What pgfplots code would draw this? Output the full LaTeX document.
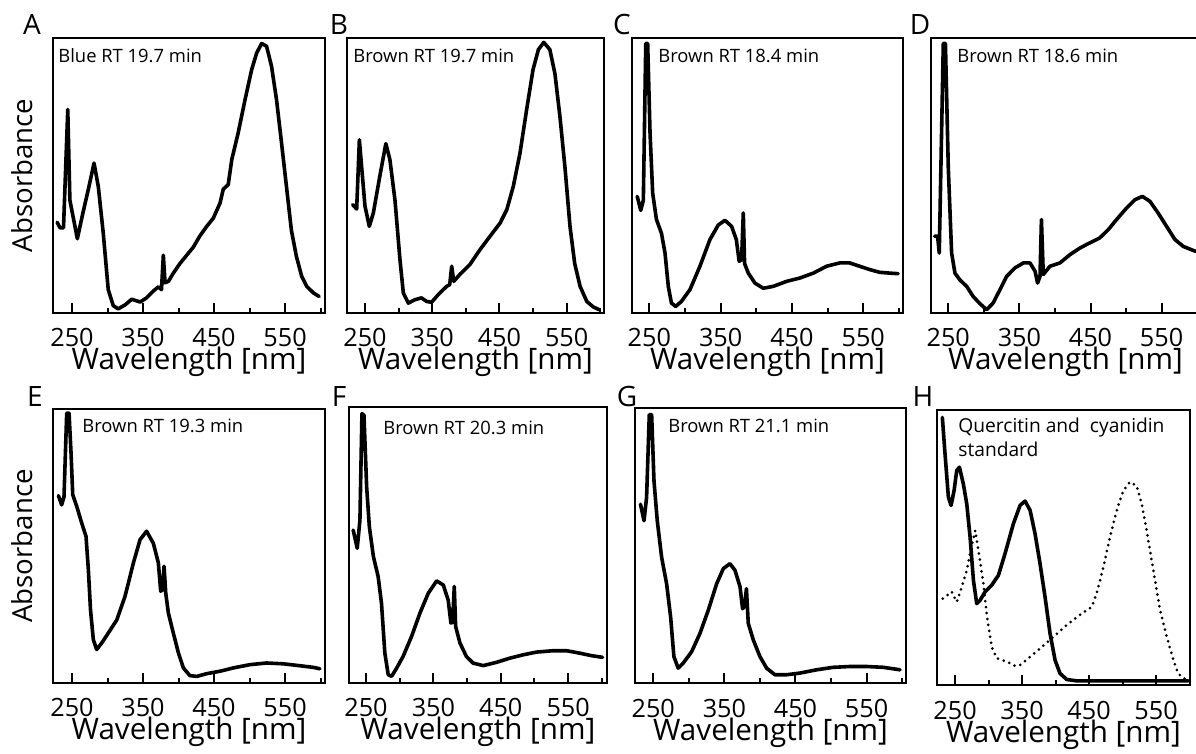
\documentclass[border=0pt]{standalone}
\usepackage{fontspec}
\setmainfont{Open Sans}
\usepackage{pgfplots}
\pgfplotsset{compat=1.18}

\pgfplotsset{
  panel/.style={
    scale only axis, anchor=north west, clip mode=individual,
    ymin=0, ymax=100, ytick=\empty,
    xtick={250,350,450,550}, minor xtick={300,400,500,600},
    xtick pos=left, tick align=inside,
    major tick length=5pt, minor tick length=2.5pt,
    every tick/.style={black, line width=1pt},
    axis line style={line width=1.25pt},
    /pgf/number format/assume math mode=true,
    /pgf/number format/1000 sep={},
    xticklabel style={font=\fontsize{12.6}{14}\selectfont, anchor=base, inner sep=0pt, yshift=-17pt},
    xlabel={Wavelength [nm]},
    xlabel style={font=\fontsize{14.8}{16}\selectfont, at={(axis description cs:0.5,0)}, anchor=base, inner sep=0pt, yshift=-28.5pt},
  },
  absorb/.style={
    ylabel={Absorbance},
    ylabel style={font=\fontsize{13.8}{16}\selectfont, at={(axis description cs:-0.114,0.5)}, anchor=center, inner sep=0pt},
  },
}
\tikzset{
  curve/.style={black, line width=1.8pt, line join=round, line cap=round, mark=none},
  dots/.style={black, line width=1.5pt, dash pattern=on 0pt off 3pt, line cap=round, mark=none},
  letter/.style={font=\fontsize{14}{16}\selectfont, anchor=base, inner sep=0pt},
  ttl/.style={font=\fontsize{9.2}{11}\selectfont, anchor=base west, inner sep=0pt},
}

\begin{document}
\begin{tikzpicture}
\useasboundingbox (0,0) rectangle (598pt,-377pt);

% A
\begin{axis}[panel, absorb, at={(26.5pt,-19pt)}, width=136pt, height=137.5pt, xmin=223.2, xmax=606.3]
\addplot[curve] coordinates {(229,33) (233,31) (238,31) (244,74) (247,41) (257.5,27) (265,36) (273,45) (281,54.5) (287,46) (294,29) (301,8.5) (308,2.7) (315,1.5) (325,3) (334,5) (346,4) (355,5.5) (364.5,8) (371.6,9.5) (376,8.5) (378.6,21) (381,11) (385.7,11.5) (392.7,14.5) (402,18) (411.5,21) (421,24) (430,28) (439.7,31.5) (449,34.5) (458.5,40) (463,45) (470,46.7) (475,55.8) (484,65.5) (493.7,77.6) (503,88.5) (510,94.5) (517,98) (524,97) (531,89.7) (538,77.6) (545,62) (552,46) (559,30) (566,20.6) (573.5,13.3) (580.5,9.7) (590,7.3) (598,6)};
\node[letter] at (rel axis cs:0,1) [xshift=-10.5pt, yshift=1.5pt] {A};
\node[ttl] at (rel axis cs:0,1) [xshift=2.5pt, yshift=-12.3pt] {Blue RT 19.7 min};
\end{axis}

% B
\begin{axis}[panel, at={(173.5pt,-19pt)}, width=128.5pt, height=137.5pt, xmin=223.2, xmax=605.6]
\addplot[curve] coordinates {(231.7,39.4) (237.6,37.8) (241.6,63) (245,53) (250,38.8) (256.4,31.5) (262.4,36.4) (272,49.7) (281,61.6) (287,55.8) (294.6,41) (302,19.4) (307,7.3) (314.5,3.6) (324,4.8) (334,5.5) (341.7,4.2) (349,3.9) (359,6.7) (371.5,9.7) (376,10.3) (379,17) (382,11.5) (391,14) (406,17.6) (421,23) (436,27.9) (451,32.7) (461,37.6) (470.6,46) (480.5,58) (490.5,74) (500,88.5) (508,95.8) (516,98.4) (525,95.8) (532.6,87) (540,71.5) (547.5,53) (555,31.5) (562,18) (570,9.7) (580,4.2) (589.6,2.2) (598.5,1.2)};
\node[letter] at (rel axis cs:0,1) [xshift=-4pt, yshift=1.5pt] {B};
\node[ttl] at (rel axis cs:0,1) [xshift=3pt, yshift=-12.3pt] {Brown RT 19.7 min};
\end{axis}

% C
\begin{axis}[panel, at={(316pt,-19pt)}, width=135.5pt, height=137.5pt, xmin=225.7, xmax=605.8]
\addplot[curve] coordinates {(233,42.4) (238,37.3) (241.6,41) (245,98) (247.7,98) (251,65.5) (254.7,43.6) (260,34) (267,29) (272,21.8) (276.6,9.7) (281,3.6) (287,2.4) (295,4.2) (307,8.5) (321,17) (335,26.7) (346.7,32) (356,33.7) (365.4,31.5) (372,26.7) (376,18.8) (379.4,19.4) (381.8,36.4) (383.6,18) (388.8,14.5) (398,10.9) (409.8,9) (424,9.7) (442.5,11.5) (461,12.7) (480,14.5) (498.6,17) (517,18.2) (531,18.2) (545,17) (559,15.8) (573,14.8) (587,14.5) (599,14.3)};
\node[letter] at (rel axis cs:0,1) [xshift=-5pt, yshift=1.5pt] {C};
\node[ttl] at (rel axis cs:0,1) [xshift=13pt, yshift=-12.3pt] {Brown RT 18.4 min};
\end{axis}

% D
\begin{axis}[panel, at={(465.5pt,-19pt)}, width=134.5pt, height=137.5pt, xmin=225.7, xmax=604]
\addplot[curve] coordinates {(231,27.9) (235,27.9) (237.3,21.8) (243,98) (246,98) (250,53) (254.7,21.8) (259.4,14.5) (266.4,12) (275.8,9.7) (285,6) (294.5,3.4) (304,1.2) (313,3.6) (322.7,8.5) (332,13.3) (343.8,16.4) (355.5,18.2) (364.9,18.2) (372,15.2) (375.6,10.9) (379,13.3) (381,34) (383.6,14) (393,17) (407,18.2) (421,21.2) (435,23.6) (449,25.5) (463,27.3) (475,30.3) (486.7,34) (500.8,38.2) (512.5,41.2) (523,42.4) (533.6,40.6) (545,36.4) (557,31.5) (568.8,26.7) (580.5,24.2) (592,23) (598,22.4)};
\node[letter] at (rel axis cs:0,1) [xshift=-5.5pt, yshift=1.5pt] {D};
\node[ttl] at (rel axis cs:0,1) [xshift=13pt, yshift=-12.3pt] {Brown RT 18.6 min};
\end{axis}

% E
\begin{axis}[panel, absorb, at={(26.5pt,-204.5pt)}, width=136pt, height=137pt, xmin=223.2, xmax=606.3]
\addplot[curve] coordinates {(230.8,68.4) (235.4,65) (238.7,68) (242.5,98.5) (245.8,98.5) (248.6,84) (251,68.7) (256.6,64.5) (263.6,58.4) (269.7,53.5) (273,41.4) (276,26.8) (280,15.8) (284.7,12.2) (291.8,14.6) (301,18.2) (313,23) (324.6,31.6) (336.4,43.8) (345.8,52.3) (355,55.4) (364.5,51) (371.6,43.8) (374.9,33.5) (377.5,34) (379.6,42.6) (382,32.8) (385.7,25.5) (392.7,18.2) (399.8,11) (406.8,5.5) (416,2.7) (425.6,2.4) (439.7,3.4) (458.5,4.3) (477,5.5) (500.7,6.7) (524,7.3) (547.6,7) (571,6.3) (590,5.7) (599,5.2)};
\node[letter] at (rel axis cs:0,1) [xshift=-9pt, yshift=1pt] {E};
\node[ttl] at (rel axis cs:0,1) [xshift=14.5pt, yshift=-12pt] {Brown RT 19.3 min};
\end{axis}

% F
\begin{axis}[panel, at={(174.5pt,-203.5pt)}, width=129pt, height=138pt, xmin=224.8, xmax=607.6]
\addplot[curve] coordinates {(231,55.4) (237,48.8) (241,59) (244,97.6) (247,97) (251,71) (255,56.6) (261,45.8) (268,38.6) (273,28.9) (278,10.8) (283,3) (288,2.4) (295.5,5.4) (305,9.6) (317.7,16.9) (330,25.3) (342.4,32.5) (354.8,37) (364.7,35.5) (372,30) (376,21.7) (378.5,22) (381,35) (383,20.5) (389.4,14.5) (399,9.6) (409,7.2) (424,6.3) (443.8,7.5) (463.5,9) (483,10.2) (503,11.2) (527.8,11.7) (547.6,11.7) (567.4,10.8) (584.7,9.9) (601,9.3)};
\node[letter] at (rel axis cs:0,1) [xshift=-5pt, yshift=0pt] {F};
\node[ttl] at (rel axis cs:0,1) [xshift=17pt, yshift=-13.5pt] {Brown RT 20.3 min};
\end{axis}

% G
\begin{axis}[panel, at={(317.5pt,-204pt)}, width=135.5pt, height=137.5pt, xmin=224.3, xmax=605.4]
\addplot[curve] coordinates {(232,65) (237,59) (240.6,67.5) (244.4,97.6) (247.7,97.6) (251,73.5) (255.6,59) (261.7,45.8) (268.8,36) (274.4,24) (279,9.6) (285,5.4) (292,7.2) (304,11.4) (315.6,18) (327.4,26.5) (339,36) (348.5,41.6) (357.8,43.4) (364.9,41) (372,35) (375.6,27) (378.5,28) (381,34.3) (383.6,21.7) (390.6,15.7) (400,9.6) (409.4,5.4) (421,3) (437.5,3) (456,3.6) (479.7,4.8) (503,5.7) (526.6,6) (550,6) (573.5,5.7) (597,4.8)};
\node[letter] at (rel axis cs:0,1) [xshift=-4pt, yshift=1pt] {G};
\node[ttl] at (rel axis cs:0,1) [xshift=16.5pt, yshift=-12.5pt] {Brown RT 21.1 min};
\end{axis}

% H
\begin{axis}[panel, at={(468.5pt,-205pt)}, width=126.5pt, height=137.5pt, xmin=223, xmax=600.7]
\addplot[curve] coordinates {(231,97.3) (235,84) (240,68.3) (244,65.3) (248.5,70.7) (252.5,78) (256.5,79.2) (262.4,73) (267.4,65.9) (272.4,53.8) (277.4,38) (282.3,29.6) (287.3,30.8) (294.8,33.9) (304.7,36.3) (314.7,39.9) (324.6,47.8) (337,58.6) (347,65.3) (354.5,66.9) (362,63.5) (369.4,55) (376.9,44) (384.3,32) (391.8,18.7) (399.3,9) (406.7,4.2) (416.7,2) (431.6,1.5) (466.4,1.5) (516,1.5) (598,1.5)};
\addplot[dots] coordinates {(231.6,31.4) (245,33.9) (252.5,30.2) (260,35.7) (267.4,41.7) (273.4,49) (280,56.2) (284.8,49) (292.3,36.9) (298.3,23.6) (304.7,13.9) (312.2,9.7) (327,8.5) (339.6,6.9) (347,7.3) (359.5,9.7) (376.9,13.3) (396.8,17.5) (416.7,21.8) (439,26) (454,28.4) (461.4,33.3) (471.4,42.9) (481.3,53.8) (491.3,63.5) (501.2,70.7) (511,73.8) (521,72.5) (528.6,65.9) (536,56.2) (546,41.7) (556,27.2) (566,17.5) (576,9) (583,4.2) (591,2.4) (600,1.8)};
\node[letter] at (rel axis cs:0,1) [xshift=-7pt, yshift=1.5pt] {H};
\node[font=\fontsize{9.6}{12}\selectfont, anchor=base west, inner sep=0pt] at (rel axis cs:0,1) [xshift=10.5pt, yshift=-11.5pt] {Quercitin and\ \ cyanidin};
\node[font=\fontsize{9.6}{12}\selectfont, anchor=base west, inner sep=0pt] at (rel axis cs:0,1) [xshift=10.5pt, yshift=-23.5pt] {standard};
\end{axis}
\end{tikzpicture}
\end{document}
